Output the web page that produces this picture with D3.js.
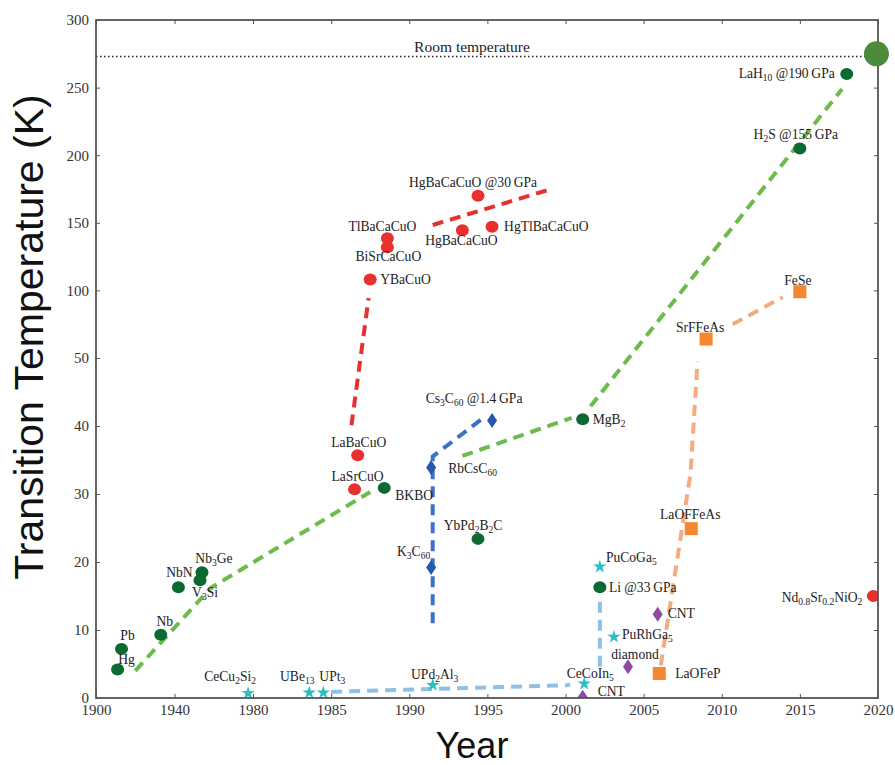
<!DOCTYPE html>
<html>
<head>
<meta charset="utf-8">
<script src="https://cdn.jsdelivr.net/npm/d3@7"></script>
<style>
  body { margin: 0; background: #fff; }
  .tick text { font-family: "Liberation Serif", "Times New Roman", serif; font-size: 15px; fill: #333; }
  .lbl { font-family: "Liberation Serif", "Times New Roman", serif; font-size: 13.6px; fill: #222; }
</style>
</head>
<body>
<div id="chart"></div>
<script>
// Superconductors: year of discovery vs transition temperature (K)
// labels use _{..} for subscripts
const conventional = [
  { id: 'Hg', label: 'Hg', year: 1911, tc: 4.2 },
  { id: 'Pb', label: 'Pb', year: 1913, tc: 7.2 },
  { id: 'Nb', label: 'Nb', year: 1933, tc: 9.3 },
  { id: 'NbN', label: 'NbN', year: 1942, tc: 16.3 },
  { id: 'V3Si', label: 'V_{3}Si', year: 1953, tc: 17.3 },
  { id: 'Nb3Ge', label: 'Nb_{3}Ge', year: 1954, tc: 18.5 },
  { id: 'BKBO', label: 'BKBO', year: 1988.4, tc: 30.9 },
  { id: 'YbPd2B2C', label: 'YbPd_{2}B_{2}C', year: 1994.4, tc: 23.4 },
  { id: 'MgB2', label: 'MgB_{2}', year: 2001.1, tc: 41 },
  { id: 'Li', label: 'Li @33\u2009GPa', year: 2002.2, tc: 16.3 },
  { id: 'H2S', label: 'H_{2}S @155\u2009GPa', year: 2015, tc: 205 },
  { id: 'LaH10', label: 'LaH_{10} @190\u2009GPa', year: 2018, tc: 260 }
];

const cuprates = [
  { id: 'LaBaCuO', label: 'LaBaCuO', year: 1986.7, tc: 35.7 },
  { id: 'LaSrCuO', label: 'LaSrCuO', year: 1986.5, tc: 30.7 },
  { id: 'YBaCuO', label: 'YBaCuO', year: 1987.5, tc: 108 },
  { id: 'BiSrCaCuO', label: 'BiSrCaCuO', year: 1988.6, tc: 132 },
  { id: 'TlBaCaCuO', label: 'TlBaCaCuO', year: 1988.6, tc: 138.5 },
  { id: 'HgBaCaCuO', label: 'HgBaCaCuO', year: 1993.4, tc: 144.5 },
  { id: 'HgTlBaCaCuO', label: 'HgTlBaCaCuO', year: 1995.3, tc: 147 },
  { id: 'HgBaCaCuO30', label: 'HgBaCaCuO @30\u2009GPa', year: 1994.4, tc: 170 },
  { id: 'NdSrNiO2', label: 'Nd_{0.8}Sr_{0.2}NiO_{2}', year: 2019.7, tc: 15 }
];

const fullerides = [
  { id: 'K3C60', label: 'K_{3}C_{60}', year: 1991.4, tc: 19.2 },
  { id: 'RbCsC60', label: 'RbCsC_{60}', year: 1991.4, tc: 33.9 },
  { id: 'Cs3C60', label: 'Cs_{3}C_{60} @1.4\u2009GPa', year: 1995.3, tc: 40.8 }
];

const heavyFermions = [
  { id: 'CeCu2Si2', label: 'CeCu_{2}Si_{2}', year: 1977.5, tc: 0.7 },
  { id: 'UBe13', label: 'UBe_{13}', year: 1983.6, tc: 0.8 },
  { id: 'UPt3', label: 'UPt_{3}', year: 1984.5, tc: 0.8 },
  { id: 'UPd2Al3', label: 'UPd_{2}Al_{3}', year: 1991.5, tc: 1.9 },
  { id: 'CeCoIn5', label: 'CeCoIn_{5}', year: 2001.2, tc: 2.1 },
  { id: 'PuCoGa5', label: 'PuCoGa_{5}', year: 2002.2, tc: 19.3 },
  { id: 'PuRhGa5', label: 'PuRhGa_{5}', year: 2003.1, tc: 9 }
];

const carbon = [
  { id: 'CNT1', label: 'CNT', year: 2001.1, tc: 0.1 },
  { id: 'CNT2', label: 'CNT', year: 2005.9, tc: 12.3 },
  { id: 'diamond', label: 'diamond', year: 2004, tc: 4.6 }
];

const ironBased = [
  { id: 'LaOFeP', label: 'LaOFeP', year: 2006, tc: 3.6 },
  { id: 'LaOFFeAs', label: 'LaOFFeAs', year: 2008.05, tc: 24.9 },
  { id: 'SrFFeAs', label: 'SrFFeAs', year: 2009, tc: 64 },
  { id: 'FeSe', label: 'FeSe', year: 2015, tc: 99 }
];

const roomTemperature = 273;
const highlight = { year: 2019.9, tc: 275 };

// dashed trend lines, [year, tc]
const greenTrends = [
  [[1920, 4], [1958.5, 16.2], [1987.5, 30.3]],
  [[1993.4, 35.6], [2000.4, 41.2]],
  [[2001.6, 42.9], [2017.7, 249]]
];
const redTrends = [
  [[1986.3, 40.1], [1987.4, 94.4]],
  [[1991.5, 148.4], [1998.9, 174.3]]
];
const blueTrends = [
  [[1991.5, 11], [1991.5, 35.5], [1994.8, 41.3]]
];
const lightBlueTrends = [
  [[1985, 0.9], [2000.3, 1.9]],
  [[2002.2, 4.6], [2002.2, 14.4]]
];
const orangeTrends = [
  [[2006.1, 4.8], [2008, 33], [2008.45, 49.5]],
  [[2010.7, 75], [2013.9, 95]]
];

const xTicks = [1900, 1940, 1980, 1985, 1990, 1995, 2000, 2005, 2010, 2015, 2020];
const yTicks = [0, 10, 20, 30, 40, 50, 100, 150, 200, 250, 300];

// label placement relative to marker: [dx, dy, anchor]
const labelPos = {
  Hg: [9, -5, 'middle'], Pb: [6, -9, 'middle'], Nb: [4, -9, 'middle'],
  NbN: [1, -10, 'middle'], Nb3Ge: [12, -9, 'middle'], V3Si: [5, 17, 'middle'],
  BKBO: [11, 12, 'start'], YbPd2B2C: [-5, -9, 'middle'], MgB2: [10, 5, 'start'],
  Li: [9, 5, 'start'], H2S: [-4, -9, 'middle'], LaH10: [-12, 4, 'end'],
  LaBaCuO: [1, -8, 'middle'], LaSrCuO: [3, -8, 'middle'], YBaCuO: [10, 4, 'start'],
  BiSrCaCuO: [1, 14, 'middle'], TlBaCaCuO: [-5, -7, 'middle'], HgBaCaCuO: [-1, 15, 'middle'],
  HgTlBaCaCuO: [12, 4, 'start'], HgBaCaCuO30: [-5, -9, 'middle'], NdSrNiO2: [-11, 6, 'end'],
  K3C60: [-1, -11, 'end'], RbCsC60: [17, 6, 'start'], Cs3C60: [-18, -18, 'middle'],
  CeCu2Si2: [-18, -12, 'middle'], UBe13: [-12, -12, 'middle'], UPt3: [9, -12, 'middle'],
  UPd2Al3: [2, -6, 'middle'], CeCoIn5: [6, -6, 'middle'], PuCoGa5: [6, -5, 'start'],
  PuRhGa5: [8, 2, 'start'], CNT1: [15, -1, 'start'], CNT2: [10, 4, 'start'],
  diamond: [7, -8, 'middle'], LaOFeP: [16, 4, 'start'], LaOFFeAs: [-1, -10, 'middle'],
  SrFFeAs: [-6, -7, 'middle'], FeSe: [-2, -7, 'middle']
};

const width = 895, height = 765;
const plotLeft = 96, plotRight = 878, plotTop = 20, plotBottom = 698;

const svg = d3.select('#chart').append('svg')
  .attr('width', width)
  .attr('height', height);

// broken scales: compressed before 1980 and above 50 K
const x = d3.scaleLinear().domain([1900, 1980, 2020]).range([plotLeft, 253, plotRight]);
const y = d3.scaleLinear().domain([0, 50, 300]).range([plotBottom, 358, plotTop]);

svg.append('defs').append('clipPath').attr('id', 'plot')
  .append('rect').attr('x', plotLeft).attr('y', plotTop)
  .attr('width', plotRight - plotLeft).attr('height', plotBottom - plotTop);

// room temperature
svg.append('line')
  .attr('x1', plotLeft).attr('x2', plotRight)
  .attr('y1', y(roomTemperature)).attr('y2', y(roomTemperature))
  .attr('stroke', '#222').attr('stroke-width', 1.5)
  .attr('stroke-dasharray', '1.5,2.5');
svg.append('text').attr('class', 'lbl')
  .attr('x', 472).attr('y', y(roomTemperature) - 5)
  .attr('text-anchor', 'middle')
  .style('font-size', '15.5px')
  .text('Room temperature');

// trend lines
const line = d3.line().x(d => x(d[0])).y(d => y(d[1]));
function drawTrends(sets, color) {
  svg.append('g').selectAll('path')
    .data(sets)
    .enter()
    .append('path')
    .attr('d', line)
    .attr('fill', 'none')
    .attr('stroke', color)
    .attr('stroke-width', 4)
    .attr('stroke-dasharray', '11,7');
}
drawTrends(greenTrends, '#6cbb4c');
drawTrends(redTrends, '#e8302e');
drawTrends(blueTrends, '#3b72c4');
drawTrends(lightBlueTrends, '#8fc1e8');
drawTrends(orangeTrends, '#f5ab80');

// markers
const marks = svg.append('g').attr('clip-path', 'url(#plot)');
function drawCircles(data, color) {
  marks.append('g').selectAll('ellipse')
    .data(data).enter().append('ellipse')
    .attr('cx', d => x(d.year)).attr('cy', d => y(d.tc))
    .attr('rx', 6.5).attr('ry', 6)
    .attr('fill', color);
}
function drawDiamonds(data, color) {
  marks.append('g').selectAll('path')
    .data(data).enter().append('path')
    .attr('transform', d => `translate(${x(d.year)},${y(d.tc)})`)
    .attr('d', 'M0,-7.5L5,0L0,7.5L-5,0Z')
    .attr('fill', color);
}
function drawStars(data, color) {
  marks.append('g').selectAll('path')
    .data(data).enter().append('path')
    .attr('transform', d => `translate(${x(d.year)},${y(d.tc)})`)
    .attr('d', d3.symbol().type(d3.symbolStar).size(55))
    .attr('fill', color);
}
function drawSquares(data, color) {
  marks.append('g').selectAll('rect')
    .data(data).enter().append('rect')
    .attr('x', d => x(d.year) - 6.5).attr('y', d => y(d.tc) - 6.5)
    .attr('width', 13).attr('height', 13)
    .attr('fill', color);
}
drawCircles(conventional, '#0b6a31');
drawCircles(cuprates, '#e8302e');
drawDiamonds(fullerides, '#2759ab');
drawStars(heavyFermions, '#2bbfc4');
drawDiamonds(carbon, '#8b4ba0');
drawSquares(ironBased, '#f4872f');

// labels with subscripts
function addLabel(d) {
  const p = labelPos[d.id] || [0, -8, 'middle'];
  const t = svg.append('text').attr('class', 'lbl')
    .attr('x', x(d.year) + p[0]).attr('y', y(d.tc) + p[1])
    .attr('text-anchor', p[2]);
  const parts = d.label.split(/_\{([^}]*)\}/);
  let shift = 0;
  parts.forEach((s, i) => {
    if (!s) return;
    const sub = i % 2 === 1;
    const dy = (sub ? 3 : 0) - shift;
    shift = sub ? 3 : 0;
    const ts = t.append('tspan').text(s);
    if (dy) ts.attr('dy', dy);
    if (sub) ts.attr('font-size', 9.5);
  });
}
[conventional, cuprates, fullerides, heavyFermions, carbon, ironBased]
  .forEach(arr => arr.forEach(addLabel));

// frame and axes
svg.append('rect')
  .attr('x', plotLeft).attr('y', plotTop)
  .attr('width', plotRight - plotLeft).attr('height', plotBottom - plotTop)
  .attr('fill', 'none').attr('stroke', '#555').attr('stroke-width', 1.8);

const xAxis = svg.append('g')
  .attr('transform', `translate(0,${plotBottom})`)
  .call(d3.axisBottom(x).tickValues(xTicks).tickFormat(d3.format('d')).tickSizeInner(-4).tickSizeOuter(0).tickPadding(8));
const yAxis = svg.append('g')
  .attr('transform', `translate(${plotLeft},0)`)
  .call(d3.axisLeft(y).tickValues(yTicks).tickSizeInner(-4).tickSizeOuter(0).tickPadding(7));
svg.append('g').attr('transform', `translate(0,${plotTop})`)
  .call(d3.axisTop(x).tickValues(xTicks).tickFormat('').tickSizeInner(-4).tickSizeOuter(0));
svg.append('g').attr('transform', `translate(${plotRight},0)`)
  .call(d3.axisRight(y).tickValues(yTicks).tickFormat('').tickSizeInner(-4).tickSizeOuter(0));
svg.selectAll('.domain').remove();
svg.selectAll('.tick line').attr('stroke', '#555');
xAxis.selectAll('.tick text').attr('dy', '0.6em');

// big marker on the room temperature line
svg.append('circle')
  .attr('cx', x(highlight.year)).attr('cy', y(highlight.tc))
  .attr('r', 12.5).attr('fill', '#4c8a3c');

// axis titles
svg.append('text')
  .attr('transform', 'translate(43,337) rotate(-90)')
  .attr('text-anchor', 'middle')
  .style('font-family', '"Liberation Sans", Arial, sans-serif')
  .style('font-size', '41px')
  .style('fill', '#111')
  .text('Transition Temperature (K)');
svg.append('text')
  .attr('x', 472).attr('y', 758)
  .attr('text-anchor', 'middle')
  .style('font-family', '"Liberation Sans", Arial, sans-serif')
  .style('font-size', '36px')
  .style('fill', '#111')
  .text('Year');
</script>
</body>
</html>
